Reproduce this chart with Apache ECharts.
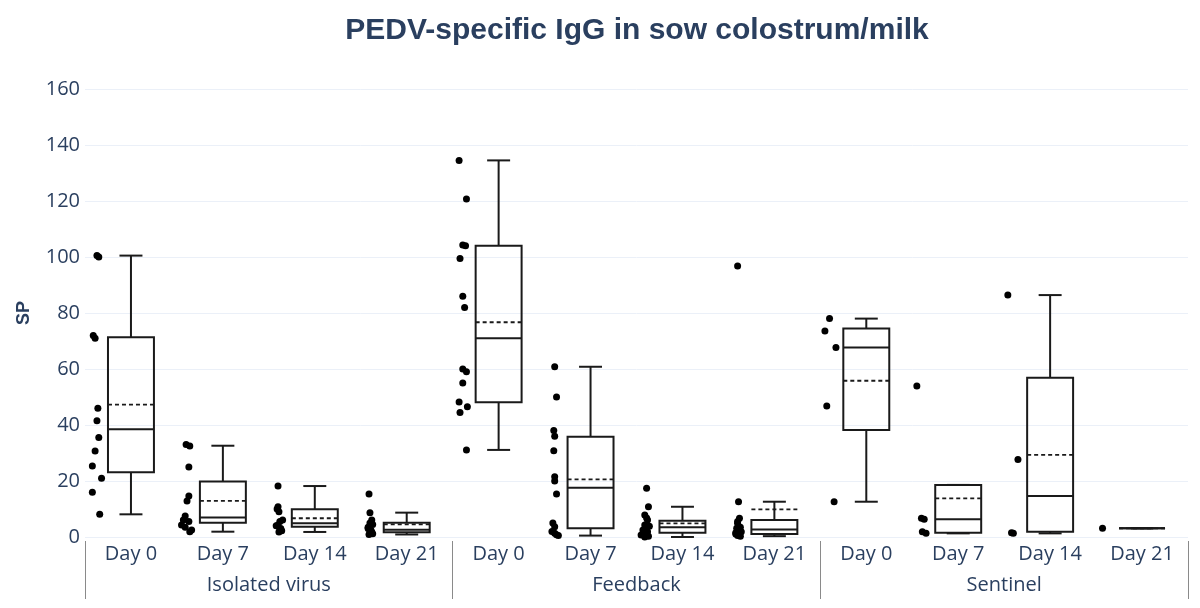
<!DOCTYPE html>
<html><head><meta charset="utf-8">
<script src="https://cdn.jsdelivr.net/npm/echarts@6/dist/echarts.min.js"></script>
<style>html,body{margin:0;padding:0;background:#fff}#c{width:1200px;height:608px}</style>
</head><body><div id="c"></div>
<script>
// ---- data ----
const dayLabels = ['Day 0','Day 7','Day 14','Day 21','Day 0','Day 7','Day 14','Day 21','Day 0','Day 7','Day 14','Day 21'];
const groupLabels = ['Isolated virus','Feedback','Sentinel'];
const yTicks = [0,20,40,60,80,100,120,140,160];

// raw SP values per box (left to right)
const isoDay0  = [100.5,100,72,71,46,41.5,35.5,30.7,25.4,21,16,8.1];
const isoDay7  = [33,32.5,25,14.6,12.9,7.5,6.1,5.5,4.3,3.5,2.5,1.9];
const isoDay14 = [18.2,10.8,10,9,6.1,5.5,4.3,4,3,2.7,2.2,1.8];
const isoDay21 = [15.4,8.7,6.1,5,4.5,3.5,3,2.5,2,1.8,1.2,0.9];
const fbDay0   = [134.5,120.7,104.3,104,99.5,86,82,60,59,55,48.2,46.5,44.5,31.1];
const fbDay7   = [60.8,50,38,36,30.8,21.5,20,15.4,5,3.7,2,1.3,0.8,0.5];
const fbDay14  = [17.4,10.8,7.9,6.8,6.1,4.3,3.8,3.2,2.5,1.9,1.2,0.7,0.3,0];
const fbDay21  = [96.8,12.6,6.7,5.5,4.9,3.5,3.1,2.5,1.9,1.5,1.1,0.8,0.5,0.3];
const snDay0   = [78,73.6,67.7,46.8,12.6];
const snDay7   = [53.9,6.7,6.3,1.9,1.3];
const snDay14  = [86.4,27.7,1.5,1.3];
const snDay21  = [3.1];

// horizontal jitter of each point, in category widths
const isoDay0J  = [-0.37,-0.35,-0.41,-0.39,-0.36,-0.37,-0.35,-0.39,-0.42,-0.32,-0.42,-0.34];
const isoDay7J  = [-0.40,-0.36,-0.37,-0.37,-0.39,-0.41,-0.43,-0.37,-0.45,-0.41,-0.34,-0.36];
const isoDay14J = [-0.40,-0.40,-0.41,-0.39,-0.35,-0.38,-0.40,-0.42,-0.37,-0.38,-0.36,-0.39];
const isoDay21J = [-0.41,-0.40,-0.38,-0.40,-0.37,-0.42,-0.42,-0.39,-0.40,-0.38,-0.37,-0.41];
const fbDay0J   = [-0.43,-0.35,-0.39,-0.36,-0.42,-0.39,-0.37,-0.39,-0.35,-0.39,-0.43,-0.34,-0.42,-0.35];
const fbDay7J   = [-0.39,-0.37,-0.40,-0.39,-0.40,-0.39,-0.39,-0.37,-0.41,-0.39,-0.42,-0.39,-0.37,-0.35];
const fbDay14J  = [-0.39,-0.37,-0.41,-0.39,-0.38,-0.41,-0.36,-0.40,-0.43,-0.38,-0.40,-0.45,-0.37,-0.41];
const fbDay21J  = [-0.40,-0.39,-0.38,-0.40,-0.40,-0.37,-0.41,-0.39,-0.36,-0.42,-0.42,-0.38,-0.40,-0.37];
const snDay0J   = [-0.40,-0.45,-0.33,-0.43,-0.35];
const snDay7J   = [-0.45,-0.40,-0.37,-0.39,-0.35];
const snDay14J  = [-0.46,-0.35,-0.42,-0.40];
const snDay21J  = [-0.43];

// box statistics: [lower whisker, Q1, median, Q3, upper whisker, mean]
const boxStats = [
  [8.1, 23.1, 38.5, 71.3, 100.5, 47.3],
  [1.9, 5.1, 7.0, 19.8, 32.6, 12.9],
  [1.8, 3.7, 4.9, 9.9, 18.2, 6.7],
  [0.9, 1.7, 2.6, 5.1, 8.7, 4.5],
  [31.1, 48.1, 71, 104, 134.5, 76.7],
  [0.5, 3.1, 17.6, 35.8, 60.8, 20.6],
  [0, 1.5, 3.5, 5.8, 10.8, 4.9],
  [0.3, 1.1, 2.7, 6.1, 12.6, 9.9],
  [12.6, 38.2, 67.7, 74.5, 78, 55.8],
  [1.3, 1.5, 6.3, 18.6, 18.6, 13.8],
  [1.3, 1.9, 14.6, 56.9, 86.4, 29.3],
  [3.1, 3.1, 3.1, 3.1, 3.1, 3.1]
];

const pointSets = [isoDay0, isoDay7, isoDay14, isoDay21, fbDay0, fbDay7, fbDay14, fbDay21, snDay0, snDay7, snDay14, snDay21];
const jitterSets = [isoDay0J, isoDay7J, isoDay14J, isoDay21J, fbDay0J, fbDay7J, fbDay14J, fbDay21J, snDay0J, snDay7J, snDay14J, snDay21J];

// ---- build ----
const scatterData = [];
pointSets.forEach((vals, i) => vals.forEach((v, k) => scatterData.push([i + jitterSets[i][k], v])));
const boxData = boxStats.map((s, i) => [i].concat(s));

const INK = '#1a1a1a';
const TXT = '#2a3f5f';
const FONT = '"Open Sans", "Noto Sans", sans-serif';

const chart = echarts.init(document.getElementById('c'), null, {renderer: 'canvas'});
chart.setOption({
  animation: false,
  backgroundColor: '#fff',
  title: {
    text: 'PEDV-specific IgG in sow colostrum/milk',
    left: 632, top: 11, textAlign: 'center',
    textStyle: {fontFamily: '"Liberation Sans", Arial, sans-serif', fontWeight: 'bold', fontSize: 30, color: TXT}
  },
  grid: {left: 85, right: 12, top: 89, bottom: 71, containLabel: false},
  xAxis: [
    {
      type: 'category', data: dayLabels, boundaryGap: true,
      axisLine: {show: false}, axisTick: {show: false}, splitLine: {show: false},
      axisLabel: {color: TXT, fontSize: 20, fontFamily: FONT, margin: 7, interval: 0}
    },
    {
      type: 'category', data: groupLabels, boundaryGap: true, position: 'bottom', offset: 4,
      axisLine: {show: false},
      axisTick: {show: true, length: 58, lineStyle: {color: '#8a8a8a', width: 1}},
      axisLabel: {color: TXT, fontSize: 20, fontFamily: FONT, margin: 34, interval: 0},
      splitLine: {show: false}
    },
    {
      type: 'value', min: -0.5, max: 11.5, show: false
    }
  ],
  yAxis: {
    type: 'value', min: yTicks[0], max: yTicks[yTicks.length - 1], interval: 20,
    name: 'SP', nameLocation: 'middle', nameGap: 52, nameRotate: 90,
    nameTextStyle: {color: TXT, fontSize: 18, fontWeight: 'bold', fontFamily: '"Liberation Sans", Arial, sans-serif'},
    axisLine: {show: false}, axisTick: {show: false},
    axisLabel: {color: TXT, fontSize: 20, fontFamily: FONT, margin: 5},
    splitLine: {lineStyle: {color: '#ebf0f8', width: 1}}
  },
  series: [
    {
      type: 'custom', xAxisIndex: 0, yAxisIndex: 0, data: boxData,
      renderItem: function (params, api) {
        const x = api.value(0);
        const cw = api.size([1, 0])[0];
        const bw = cw * 0.5, cap = bw * 0.5;
        const cx = api.coord([x, 0])[0];
        const py = i => api.coord([x, api.value(i)])[1];
        const yMin = py(1), yQ1 = py(2), yMed = py(3), yQ3 = py(4), yMax = py(5), yMean = py(6);
        const st = {stroke: INK, lineWidth: 2, fill: null};
        const l = cx - bw / 2, r = cx + bw / 2;
        return {
          type: 'group',
          children: [
            {type: 'line', shape: {x1: cx, y1: yQ3, x2: cx, y2: yMax}, style: st},
            {type: 'line', shape: {x1: cx, y1: yQ1, x2: cx, y2: yMin}, style: st},
            {type: 'line', shape: {x1: cx - cap / 2, y1: yMax, x2: cx + cap / 2, y2: yMax}, style: st},
            {type: 'line', shape: {x1: cx - cap / 2, y1: yMin, x2: cx + cap / 2, y2: yMin}, style: st},
            {type: 'rect', shape: {x: l, y: yQ3, width: bw, height: Math.max(yQ1 - yQ3, 0)}, style: {stroke: INK, lineWidth: 2, fill: 'rgba(255,255,255,0)'}},
            {type: 'line', shape: {x1: l, y1: yMed, x2: r, y2: yMed}, style: st},
            {type: 'line', shape: {x1: l, y1: yMean, x2: r, y2: yMean}, style: {stroke: INK, lineWidth: 1.8, lineDash: [4, 3], fill: null}}
          ]
        };
      },
      z: 2
    },
    {
      type: 'scatter', xAxisIndex: 2, yAxisIndex: 0, data: scatterData,
      symbol: 'circle', symbolSize: 7, itemStyle: {color: '#000', opacity: 1}, clip: false, z: 3
    }
  ]
});
</script>
</body></html>
